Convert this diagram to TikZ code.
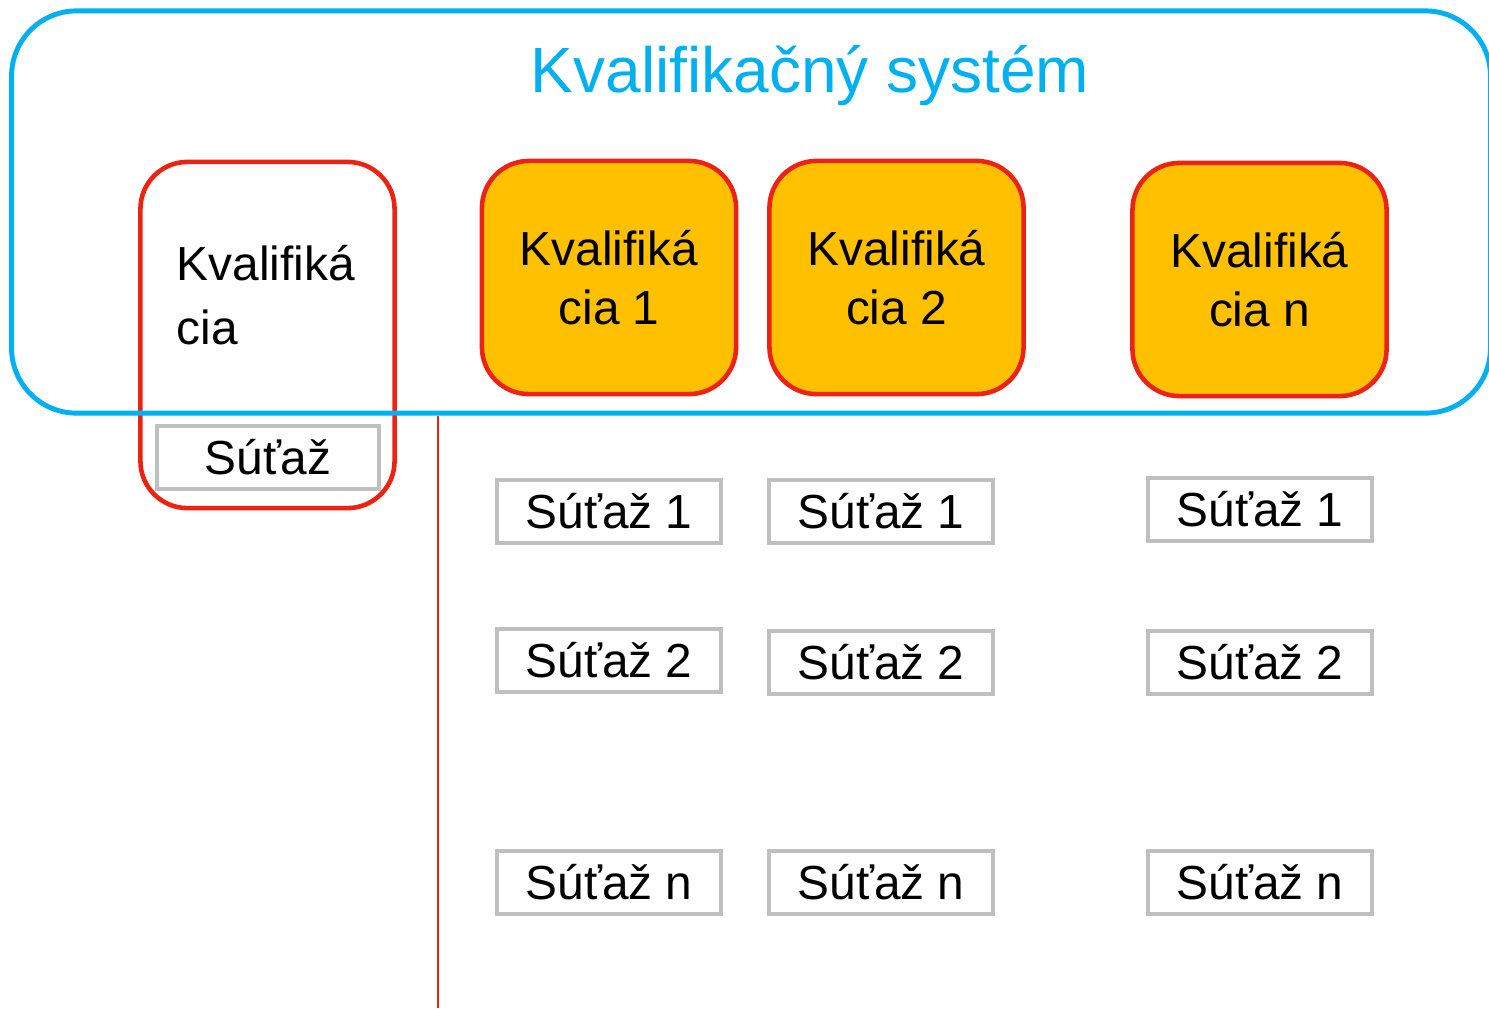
\documentclass[tikz,border=0pt]{standalone}
\usepackage{fontspec}
\setmainfont{Liberation Sans}
\definecolor{sysblue}{HTML}{00B0F0}
\definecolor{qualred}{RGB}{238,34,17}
\definecolor{qualorange}{HTML}{FFC000}
\definecolor{contestgray}{HTML}{BFBFBF}
\begin{document}
\begin{tikzpicture}
    [x=0.01cm, y=-0.01cm,
    system/.style={draw=sysblue, line width=1.4pt, rounded corners=0.65cm,
      minimum width=14.78cm, minimum height=4.02cm, inner sep=0pt},
    qualbox/.style={draw=qualred, line width=1.3pt, rounded corners=0.47cm,
      minimum width=2.54cm, minimum height=2.33cm, inner sep=0pt,
      align=center, font=\fontsize{13.6}{17}\selectfont},
    contest/.style={draw=contestgray, line width=1.1pt, fill=white,
      minimum width=2.24cm, minimum height=0.63cm, inner sep=0pt,
      text height=9.7pt, text depth=0pt, font=\fontsize{13.6}{17}\selectfont}]
    \useasboundingbox (0,0) rectangle (1489,1008);
    % kvalifikacia
    \node[qualbox, minimum height=3.46cm] (kval) at (267.5,335) {};
    \node[align=left, anchor=west, inner sep=0pt,
      font=\fontsize{13.6}{18}\selectfont] (kvaltext) at (176,295) {Kvalifiká\\cia};
    \node[contest, minimum width=2.22cm] (sutaz) at (268,457.5) {Súťaž};
    % system
    \node[system] (sys) at (751,212) {};
    \node[anchor=base, text=sysblue, inner sep=0pt,
      font=\fontsize{18.2}{22}\selectfont] (title) at (810,92) {Kvalifikačný systém};
    \node[qualbox, fill=qualorange] (kval1) at (609,277.5) {Kvalifiká\\cia 1};
    \node[qualbox, fill=qualorange] (kval2) at (896.5,277.5) {Kvalifiká\\cia 2};
    \node[qualbox, fill=qualorange] (kvaln) at (1259.5,279.5) {Kvalifiká\\cia n};
    % sutaze
    \node[contest] (sutaz11) at (609,511.5) {Súťaž 1};
    \node[contest] (sutaz12) at (609,660.5) {Súťaž 2};
    \node[contest] (sutaz1n) at (609,882.5) {Súťaž n};
    \node[contest] (sutaz21) at (881,511.5) {Súťaž 1};
    \node[contest] (sutaz22) at (881,662.5) {Súťaž 2};
    \node[contest] (sutaz2n) at (881,882.5) {Súťaž n};
    \node[contest] (sutazn1) at (1260,509.5) {Súťaž 1};
    \node[contest] (sutazn2) at (1260,662.5) {Súťaž 2};
    \node[contest] (sutaznn) at (1260,882.5) {Súťaž n};
    % deliaca ciara
    \coordinate (lineend) at (438,1008);
    \draw[qualred, line width=0.45pt] (sys.south -| lineend) -- (lineend);
\end{tikzpicture}
\end{document}
